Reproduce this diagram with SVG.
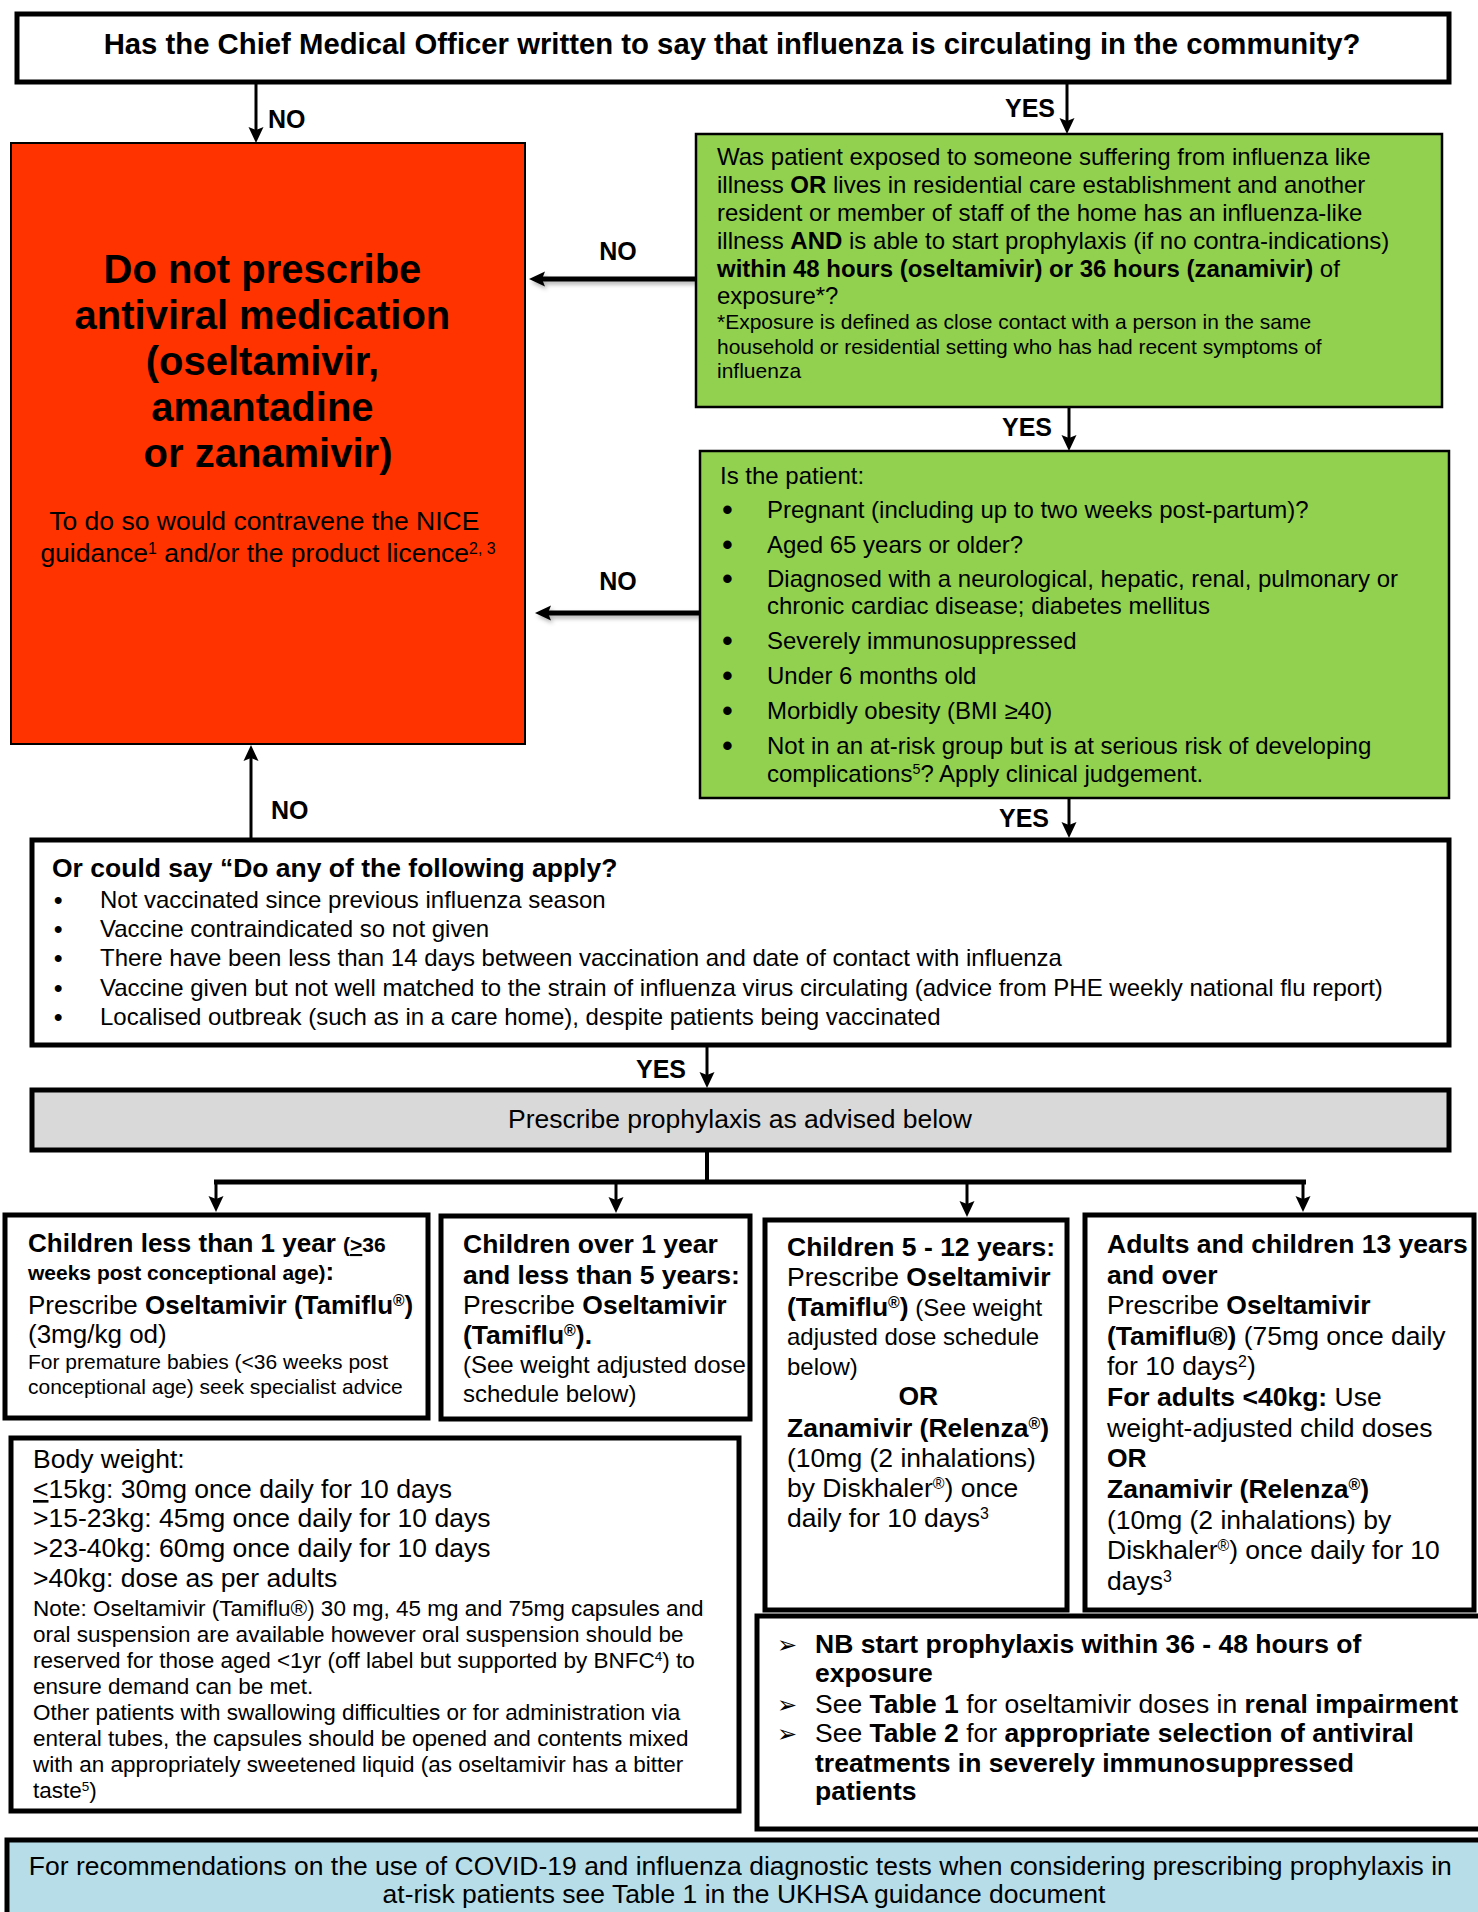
<svg xmlns="http://www.w3.org/2000/svg" width="1478" height="1912" viewBox="0 0 1478 1912">
<defs>
<style>
text { font-family: "Liberation Sans", Arial, Helvetica, sans-serif; fill: #000; }
.b { font-weight: bold; }
.sup { font-size: 0.6em; }
.box { fill: #fff; stroke: #000; stroke-width: 5; }
.thin { stroke-width: 2.5; }
.lbl { font-weight: bold; font-size: 25px; }
.con { stroke: #000; fill: none; }
.bul { font-size: 31px; }
</style>
<marker id="ah" markerUnits="userSpaceOnUse" markerWidth="16" markerHeight="16" viewBox="0 0 16 16" refX="4" refY="8" orient="auto">
<path d="M0,0.5 L16,8 L0,15.5 L3,8 z" fill="#000"/>
</marker>
<filter id="sh" filterUnits="userSpaceOnUse" x="0" y="0" width="1478" height="1912">
<feDropShadow dx="2" dy="3" stdDeviation="2" flood-color="#000" flood-opacity="0.3"/>
</filter>
</defs>
<rect width="1478" height="1912" fill="#fff"/>

<g id="connectors">
<line class="con" x1="256" y1="84" x2="256" y2="131" stroke-width="3" marker-end="url(#ah)"/>
<line class="con" x1="1067" y1="84" x2="1067" y2="122" stroke-width="3" marker-end="url(#ah)"/>
<line class="con" x1="696" y1="279" x2="541" y2="279" stroke-width="5" marker-end="url(#ah)" filter="url(#sh)"/>
<line class="con" x1="1069" y1="408" x2="1069" y2="439" stroke-width="3" marker-end="url(#ah)"/>
<line class="con" x1="700" y1="613" x2="547" y2="613" stroke-width="5" marker-end="url(#ah)" filter="url(#sh)"/>
<line class="con" x1="1069" y1="799" x2="1069" y2="826" stroke-width="3" marker-end="url(#ah)"/>
<line class="con" x1="251" y1="838" x2="251" y2="757" stroke-width="3" marker-end="url(#ah)"/>
<line class="con" x1="707" y1="1047" x2="707" y2="1076" stroke-width="3" marker-end="url(#ah)"/>
<line class="con" x1="707" y1="1152" x2="707" y2="1182" stroke-width="4"/>
<line class="con" x1="214" y1="1182" x2="1306" y2="1182" stroke-width="5"/>
<line class="con" x1="216" y1="1182" x2="216" y2="1200" stroke-width="3" marker-end="url(#ah)"/>
<line class="con" x1="616" y1="1182" x2="616" y2="1201" stroke-width="3" marker-end="url(#ah)"/>
<line class="con" x1="967" y1="1182" x2="967" y2="1205" stroke-width="3" marker-end="url(#ah)"/>
<line class="con" x1="1303" y1="1182" x2="1303" y2="1200" stroke-width="3" marker-end="url(#ah)"/>
<text class="lbl" x="268" y="128">NO</text>
<text class="lbl" x="1055" y="117" text-anchor="end">YES</text>
<text class="lbl" x="618" y="260" text-anchor="middle">NO</text>
<text class="lbl" x="1052" y="436" text-anchor="end">YES</text>
<text class="lbl" x="618" y="590" text-anchor="middle">NO</text>
<text class="lbl" x="1049" y="827" text-anchor="end">YES</text>
<text class="lbl" x="271" y="819">NO</text>
<text class="lbl" x="686" y="1078" text-anchor="end">YES</text>
</g>

<g id="n-cmo">
<rect class="box" x="17" y="14" width="1432" height="68"/>
<text class="b" x="732" y="54" font-size="29.3" text-anchor="middle">Has the Chief Medical Officer written to say that influenza is circulating in the community?</text>
</g>

<g id="n-noprescribe">
<rect x="11" y="143" width="514" height="601" fill="#FF3300" stroke="#000" stroke-width="2"/>
<text class="b" font-size="40" text-anchor="middle">
<tspan x="268" y="283">Do not prescribe</tspan>
<tspan x="268" y="329">antiviral medication</tspan>
<tspan x="268" y="375">(oseltamivir,</tspan>
<tspan x="268" y="421">amantadine</tspan>
<tspan x="268" y="467">or zanamivir)</tspan>
</text>
<text font-size="26.5" text-anchor="middle">
<tspan x="268" y="530">To do so would contravene the NICE</tspan>
<tspan x="268" y="562">guidance<tspan class="sup" baseline-shift="super">1</tspan> and/or the product licence<tspan class="sup" baseline-shift="super">2, 3</tspan></tspan>
</text>
</g>

<g id="n-exposed">
<rect class="box thin" x="696" y="134" width="746" height="273" style="fill:#92D050"/>
<text font-size="24">
<tspan x="717" y="165">Was patient exposed to someone suffering from influenza like</tspan>
<tspan x="717" y="193">illness <tspan class="b">OR</tspan> lives in residential care establishment and another</tspan>
<tspan x="717" y="221">resident or member of staff of the home has an influenza-like</tspan>
<tspan x="717" y="249">illness <tspan class="b">AND</tspan> is able to start prophylaxis (if no contra-indications)</tspan>
<tspan x="717" y="277"><tspan class="b">within 48 hours (oseltamivir) or 36 hours (zanamivir)</tspan> of</tspan>
<tspan x="717" y="304">exposure*?</tspan>
</text>
<text font-size="21">
<tspan x="717" y="329">*Exposure is defined as close contact with a person in the same</tspan>
<tspan x="717" y="354">household or residential setting who has had recent symptoms of</tspan>
<tspan x="717" y="378">influenza</tspan>
</text>
</g>

<g id="n-atrisk">
<rect class="box thin" x="700" y="451" width="749" height="347" style="fill:#92D050"/>
<text font-size="24">
<tspan x="720" y="484">Is the patient:</tspan>
<tspan x="767" y="518">Pregnant (including up to two weeks post-partum)?</tspan>
<tspan x="767" y="553">Aged 65 years or older?</tspan>
<tspan x="767" y="587">Diagnosed with a neurological, hepatic, renal, pulmonary or</tspan>
<tspan x="767" y="614">chronic cardiac disease; diabetes mellitus</tspan>
<tspan x="767" y="649">Severely immunosuppressed</tspan>
<tspan x="767" y="684">Under 6 months old</tspan>
<tspan x="767" y="719">Morbidly obesity (BMI ≥40)</tspan>
<tspan x="767" y="754">Not in an at-risk group but is at serious risk of developing</tspan>
<tspan x="767" y="782">complications<tspan class="sup" baseline-shift="super">5</tspan>? Apply clinical judgement.</tspan>
</text>
<text class="bul">
<tspan x="722" y="520">•</tspan>
<tspan x="722" y="555">•</tspan>
<tspan x="722" y="589">•</tspan>
<tspan x="722" y="651">•</tspan>
<tspan x="722" y="686">•</tspan>
<tspan x="722" y="721">•</tspan>
<tspan x="722" y="756">•</tspan>
</text>
</g>

<g id="n-apply">
<rect class="box" x="32" y="840" width="1417" height="205"/>
<text class="b" x="52" y="877" font-size="26.5">Or could say “Do any of the following apply?</text>
<text font-size="24">
<tspan x="100" y="908">Not vaccinated since previous influenza season</tspan>
<tspan x="100" y="937">Vaccine contraindicated so not given</tspan>
<tspan x="100" y="966">There have been less than 14 days between vaccination and date of contact with influenza</tspan>
<tspan x="100" y="996">Vaccine given but not well matched to the strain of influenza virus circulating (advice from PHE weekly national flu report)</tspan>
<tspan x="100" y="1025">Localised outbreak (such as in a care home), despite patients being vaccinated</tspan>
</text>
<text font-size="24" class="b">
<tspan x="54" y="908">•</tspan>
<tspan x="54" y="937">•</tspan>
<tspan x="54" y="966">•</tspan>
<tspan x="54" y="996">•</tspan>
<tspan x="54" y="1025">•</tspan>
</text>
</g>

<g id="n-prescribe">
<rect class="box" x="32" y="1090" width="1417" height="60" style="fill:#D9D9D9"/>
<text x="740" y="1128" font-size="26.5" text-anchor="middle">Prescribe prophylaxis as advised below</text>
</g>

<g id="n-under1">
<rect class="box" x="5" y="1215" width="423" height="203"/>
<text font-size="26">
<tspan x="28" y="1252" class="b">Children less than 1 year <tspan font-size="21">(<tspan text-decoration="underline">&gt;</tspan>36</tspan></tspan>
<tspan x="28" y="1280" class="b"><tspan font-size="21">weeks post conceptional age)</tspan>:</tspan>
<tspan x="28" y="1314">Prescribe <tspan class="b">Oseltamivir (Tamiflu<tspan class="sup" baseline-shift="super">®</tspan>)</tspan></tspan>
<tspan x="28" y="1343">(3mg/kg od)</tspan>
</text>
<text font-size="21">
<tspan x="28" y="1369">For premature babies (&lt;36 weeks post</tspan>
<tspan x="28" y="1394">conceptional age) seek specialist advice</tspan>
</text>
</g>

<g id="n-1to5">
<rect class="box" x="441" y="1216" width="309" height="203"/>
<text font-size="26.5">
<tspan x="463" y="1253" class="b">Children over 1 year</tspan>
<tspan x="463" y="1284" class="b">and less than 5 years:</tspan>
<tspan x="463" y="1314">Prescribe <tspan class="b">Oseltamivir</tspan></tspan>
<tspan x="463" y="1344" class="b">(Tamiflu<tspan class="sup" baseline-shift="super">®</tspan>).</tspan>
</text>
<text font-size="24">
<tspan x="463" y="1373">(See weight adjusted dose</tspan>
<tspan x="463" y="1402">schedule below)</tspan>
</text>
</g>

<g id="n-5to12">
<rect class="box" x="765" y="1220" width="302" height="390"/>
<text font-size="26.5">
<tspan x="787" y="1256" class="b">Children 5 - 12 years:</tspan>
<tspan x="787" y="1286">Prescribe <tspan class="b">Oseltamivir</tspan></tspan>
<tspan x="787" y="1316"><tspan class="b">(Tamiflu<tspan class="sup" baseline-shift="super">®</tspan>)</tspan><tspan font-size="24"> (See weight</tspan></tspan>
<tspan x="787" y="1345" font-size="24">adjusted dose schedule</tspan>
<tspan x="787" y="1375" font-size="24">below)</tspan>
<tspan x="922" y="1405" class="b" text-anchor="middle">OR</tspan>
<tspan x="787" y="1437" class="b">Zanamivir (Relenza<tspan class="sup" baseline-shift="super">®</tspan>)</tspan>
<tspan x="787" y="1467">(10mg (2 inhalations)</tspan>
<tspan x="787" y="1497">by Diskhaler<tspan class="sup" baseline-shift="super">®</tspan>) once</tspan>
<tspan x="787" y="1527">daily for 10 days<tspan class="sup" baseline-shift="super">3</tspan></tspan>
</text>
</g>

<g id="n-adults">
<rect class="box" x="1085" y="1215" width="389" height="395"/>
<text font-size="26.5">
<tspan x="1107" y="1253" class="b">Adults and children 13 years</tspan>
<tspan x="1107" y="1284" class="b">and over</tspan>
<tspan x="1107" y="1314">Prescribe <tspan class="b">Oseltamivir</tspan></tspan>
<tspan x="1107" y="1345"><tspan class="b">(Tamiflu®)</tspan> (75mg once daily</tspan>
<tspan x="1107" y="1375">for 10 days<tspan class="sup" baseline-shift="super">2</tspan>)</tspan>
<tspan x="1107" y="1406"><tspan class="b">For adults &lt;40kg:</tspan> Use</tspan>
<tspan x="1107" y="1437">weight-adjusted child doses</tspan>
<tspan x="1107" y="1467" class="b">OR</tspan>
<tspan x="1107" y="1498" class="b">Zanamivir (Relenza<tspan class="sup" baseline-shift="super">®</tspan>)</tspan>
<tspan x="1107" y="1529">(10mg (2 inhalations) by</tspan>
<tspan x="1107" y="1559">Diskhaler<tspan class="sup" baseline-shift="super">®</tspan>) once daily for 10</tspan>
<tspan x="1107" y="1590">days<tspan class="sup" baseline-shift="super">3</tspan></tspan>
</text>
</g>

<g id="n-weight">
<rect class="box" x="11" y="1438" width="728" height="373"/>
<text font-size="26.5">
<tspan x="33" y="1468">Body weight:</tspan>
<tspan x="33" y="1498"><tspan text-decoration="underline">&lt;</tspan>15kg: 30mg once daily for 10 days</tspan>
<tspan x="33" y="1527">&gt;15-23kg: 45mg once daily for 10 days</tspan>
<tspan x="33" y="1557">&gt;23-40kg: 60mg once daily for 10 days</tspan>
<tspan x="33" y="1587">&gt;40kg: dose as per adults</tspan>
</text>
<text font-size="22.5">
<tspan x="33" y="1616">Note: Oseltamivir (Tamiflu®) 30 mg, 45 mg and 75mg capsules and</tspan>
<tspan x="33" y="1642">oral suspension are available however oral suspension should be</tspan>
<tspan x="33" y="1668">reserved for those aged &lt;1yr (off label but supported by BNFC<tspan class="sup" baseline-shift="super">4</tspan>) to</tspan>
<tspan x="33" y="1694">ensure demand can be met.</tspan>
<tspan x="33" y="1720">Other patients with swallowing difficulties or for administration via</tspan>
<tspan x="33" y="1746">enteral tubes, the capsules should be opened and contents mixed</tspan>
<tspan x="33" y="1772">with an appropriately sweetened liquid (as oseltamivir has a bitter</tspan>
<tspan x="33" y="1798">taste<tspan class="sup" baseline-shift="super">5</tspan>)</tspan>
</text>
</g>

<g id="n-nb">
<rect class="box" x="757" y="1616" width="730" height="213"/>
<text font-size="24" style="font-family:'DejaVu Sans',sans-serif">
<tspan x="777" y="1653">➢</tspan>
<tspan x="777" y="1713">➢</tspan>
<tspan x="777" y="1742">➢</tspan>
</text>
<text font-size="26.5">
<tspan x="815" y="1653" class="b">NB start prophylaxis within 36 - 48 hours of</tspan>
<tspan x="815" y="1682" class="b">exposure</tspan>
<tspan x="815" y="1713">See <tspan class="b">Table 1</tspan> for oseltamivir doses in <tspan class="b">renal impairment</tspan></tspan>
<tspan x="815" y="1742">See <tspan class="b">Table 2</tspan> for <tspan class="b">appropriate selection of antiviral</tspan></tspan>
<tspan x="815" y="1772" class="b">treatments in severely immunosuppressed</tspan>
<tspan x="815" y="1800" class="b">patients</tspan>
</text>
</g>

<g id="n-covid">
<rect class="box" x="7" y="1840" width="1480" height="80" style="fill:#B7DEE8"/>
<text font-size="26.5" text-anchor="middle">
<tspan x="744" y="1875">For recommendations on the use of COVID-19 and influenza diagnostic tests when considering prescribing prophylaxis in</tspan>
<tspan x="744" y="1903">at-risk patients see Table 1 in the UKHSA guidance document</tspan>
</text>
</g>
</svg>
